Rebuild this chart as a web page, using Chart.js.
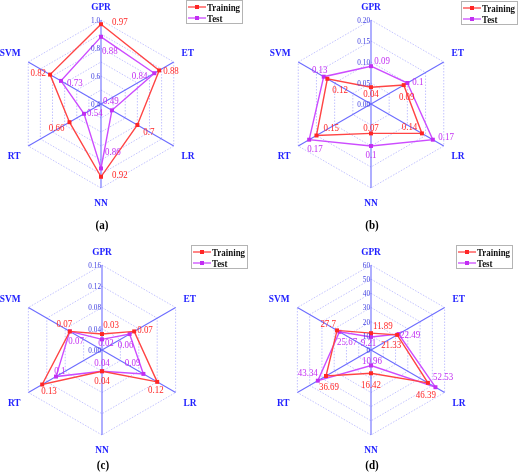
<!DOCTYPE html>
<html><head><meta charset="utf-8">
<script src="https://cdn.jsdelivr.net/npm/chart.js@4.4.0/dist/chart.umd.min.js"></script>
<style>
html,body{margin:0;padding:0;background:#fff;}
#wrap{position:relative;width:520px;height:475px;overflow:hidden;}
#wrap canvas{position:absolute;left:0;top:0;}
</style></head><body>
<div id="wrap">
<canvas id="ca" width="520" height="475"></canvas>
<canvas id="cb" width="520" height="475"></canvas>
<canvas id="cc" width="520" height="475"></canvas>
<canvas id="cd" width="520" height="475"></canvas>
</div>
<script>
// ---- data ----
const categories = ['GPR', 'ET', 'LR', 'NN', 'RT', 'SVM'];
const seriesNames = ['Training', 'Test'];
const trainA = [0.97, 0.88, 0.7, 0.92, 0.66, 0.82];
const testA  = [0.88, 0.84, 0.49, 0.86, 0.54, 0.73];
const trainB = [0.04, 0.09, 0.14, 0.07, 0.15, 0.12];
const testB  = [0.09, 0.1, 0.17, 0.1, 0.17, 0.13];
const trainC = [0.03, 0.07, 0.12, 0.04, 0.13, 0.07];
const testC  = [0.02, 0.06, 0.09, 0.04, 0.1, 0.07];
const trainD = [11.89, 21.33, 46.39, 16.42, 36.69, 27.7];
const testD  = [9.21, 22.49, 52.53, 10.96, 43.34, 25.67];
const ticksA = ['0.4', '', '0.6', '', '0.8', '', '1.0'];
const ticksB = ['0.00', '0.05', '0.10', '0.15', '0.20'];
const ticksC = ['0.00', '0.04', '0.08', '0.12', '0.16'];
const ticksD = ['0', '10', '20', '30', '40', '50', '60'];
const captions = ['(a)', '(b)', '(c)', '(d)'];

// ---- layout / style (not data) ----
const SX = 0.85;
const SERIF = '"Liberation Serif", "Times New Roman", serif';
const COL_TRAIN = '#ff4444', COL_TRAIN_PT = '#ff2626';
const COL_TEST = '#cc4cff', COL_TEST_PT = '#c22ef2';
const COL_AXIS_LABEL = '#2020ff', COL_TICK = '#4040e0';

// data label offsets from each point: [dx, dy, align]
const labelPos = {
  a: { train: [[11,-3,'l'],[4,0,'l'],[6,6,'l'],[11,-2,'l'],[-5,5.5,'r'],[-4,-2,'r']],
       test:  [[1,14,'l'],[-7,2.5,'r'],[-1,-9.5,'c'],[4,-16.7,'l'],[3,-1,'l'],[6,2,'l']] },
  b: { train: [[0,6.5,'c'],[3,11.5,'c'],[-4.6,-6.7,'r'],[0,-5.7,'c'],[7,-7.8,'l'],[5,11,'l']],
       test:  [[3.3,-5.5,'l'],[5,-1.3,'l'],[5.5,-3,'l'],[0,8.7,'c'],[-2,9,'l'],[-4,-7,'c']] },
  c: { train: [[1.3,-10,'l'],[3,-2.4,'l'],[-1.4,8,'c'],[0,9.5,'c'],[-1,5.5,'l'],[-5.5,-8.4,'c']],
       test:  [[4,2.6,'c'],[-4,10,'c'],[-3,-11,'r'],[0,-9,'c'],[-1.7,-6.6,'l'],[-1.5,8.6,'l']] },
  d: { train: [[2,-8,'l'],[-6,10,'c'],[-2,12,'c'],[0,10.7,'c'],[3,10,'c'],[-1,-7.4,'r']],
       test:  [[-2.5,5,'c'],[1.5,0,'l'],[-2.4,-11,'l'],[1,-5,'c'],[0,-8.7,'r'],[-2.5,10,'l']] }
};

const panels = [
  { id: 'ca', key: 'a', train: trainA, test: testA, ticks: ticksA, caption: captions[0], cx: 101, cy: 104, r: 84, legend: [186, 0], capDy: 121 },
  { id: 'cb', key: 'b', train: trainB, test: testB, ticks: ticksB, caption: captions[1], cx: 371, cy: 104, r: 84, legend: [461, 1], capDy: 121 },
  { id: 'cc', key: 'c', train: trainC, test: testC, ticks: ticksC, caption: captions[2], cx: 102, cy: 350, r: 85, legend: [191, 245], capDy: 115 },
  { id: 'cd', key: 'd', train: trainD, test: testD, ticks: ticksD, caption: captions[3], cx: 371, cy: 350, r: 85, legend: [456, 245], capDy: 114.5 }
];

function txt(ctx, s, x, yc, align, size, weight, color) {
  ctx.save();
  ctx.font = weight + ' ' + size + 'px ' + SERIF;
  ctx.fillStyle = color;
  ctx.textAlign = align === 'l' ? 'left' : align === 'r' ? 'right' : align === 'c' ? 'center' : align;
  ctx.textBaseline = 'alphabetic';
  ctx.translate(x, yc + size * 0.34);
  ctx.scale(SX, 1);
  ctx.fillText(s, 0, 0);
  ctx.restore();
}
function textW(ctx, s, size, weight) {
  ctx.save();
  ctx.font = weight + ' ' + size + 'px ' + SERIF;
  const w = ctx.measureText(s).width * SX;
  ctx.restore();
  return w;
}

const overlay = {
  id: 'overlay',
  afterDraw(chart, args, opts) {
    const p = opts.panel;
    const ctx = chart.ctx;
    const sc = chart.scales.r;
    // tick labels
    sc.ticks.forEach(t => {
      if (!t.label) return;
      const d = sc.getDistanceFromCenterForValue(t.value);
      txt(ctx, t.label, sc.xCenter - 1, sc.yCenter - d, 'r', 8.5, 'normal', COL_TICK);
    });
    // axis (point) labels
    chart.data.labels.forEach((lab, i) => {
      const pos = sc.getPointPosition(i, sc.drawingArea + 9);
      const dx = pos.x - sc.xCenter, dy = pos.y - sc.yCenter;
      const w = textW(ctx, lab, 11, 'bold');
      let x = pos.x, y = pos.y;
      if (Math.abs(dx) > 1) x += Math.sign(dx) * w / 2;
      y += Math.sign(dy) * 5;
      txt(ctx, lab, x, y, 'c', 11, 'bold', COL_AXIS_LABEL);
    });
    // data labels
    const lp = labelPos[p.key];
    [['train', COL_TRAIN_PT], ['test', COL_TEST_PT]].forEach(([k, col], di) => {
      const meta = chart.getDatasetMeta(di);
      meta.data.forEach((el, i) => {
        const o = lp[k][i];
        const v = chart.data.datasets[di].data[i];
        txt(ctx, String(v), el.x + o[0], el.y + o[1], o[2], 10.5, 'normal', col);
      });
    });
    // legend
    const [lx, ly] = p.legend;
    ctx.save();
    ctx.fillStyle = '#fff';
    ctx.strokeStyle = '#b4b4b4';
    ctx.lineWidth = 1;
    ctx.fillRect(lx, ly, 56, 23);
    ctx.strokeRect(lx + 0.5, ly + 0.5, 56, 23);
    ctx.restore();
    chart.data.datasets.forEach((ds, di) => {
      const yy = ly + 7 + di * 11;
      ctx.save();
      ctx.strokeStyle = ds.borderColor;
      ctx.lineWidth = 1.3;
      ctx.beginPath();
      ctx.moveTo(lx + 2, yy);
      ctx.lineTo(lx + 20, yy);
      ctx.stroke();
      ctx.fillStyle = ds.pointBackgroundColor;
      ctx.fillRect(lx + 9, yy - 2, 4, 4);
      ctx.restore();
      txt(ctx, ds.label, lx + 21, yy, 'l', 10.5, 'bold', '#111');
    });
    // caption
    txt(ctx, p.caption, sc.xCenter + 1, sc.yCenter + p.capDy, 'c', 13, 'bold', '#000');
  }
};

panels.forEach(p => {
  const tmin = parseFloat(p.ticks[0]);
  const tmax = parseFloat(p.ticks[p.ticks.length - 1]);
  const step = (tmax - tmin) / (p.ticks.length - 1);
  new Chart(document.getElementById(p.id), {
    type: 'radar',
    data: {
      labels: categories,
      datasets: [
        { label: seriesNames[0], data: p.train, borderColor: COL_TRAIN, pointBackgroundColor: COL_TRAIN_PT,
          backgroundColor: 'rgba(0,0,0,0)', fill: false, borderWidth: 1.4, pointStyle: 'rect', pointRadius: 2.8,
          pointBorderWidth: 0, tension: 0 },
        { label: seriesNames[1], data: p.test, borderColor: COL_TEST, pointBackgroundColor: COL_TEST_PT,
          backgroundColor: 'rgba(0,0,0,0)', fill: false, borderWidth: 1.4, pointStyle: 'rect', pointRadius: 2.8,
          pointBorderWidth: 0, tension: 0 }
      ]
    },
    options: {
      responsive: false,
      animation: false,
      events: [],
      layout: { padding: { left: p.cx - p.r, top: p.cy - p.r, right: 520 - p.cx - p.r, bottom: 475 - p.cy - p.r } },
      plugins: { legend: { display: false }, tooltip: { enabled: false }, overlay: { panel: p } },
      scales: {
        r: {
          min: tmin, max: tmax, startAngle: 0,
          ticks: { display: false, stepSize: step, callback: (v, i) => p.ticks[i] },
          pointLabels: { display: false },
          angleLines: { display: true, color: '#6c6cff', lineWidth: 1.1 },
          grid: { color: '#b4b4ff', lineWidth: 0.8 },
          border: { dash: [1.5, 1.5] }
        }
      }
    },
    plugins: [overlay]
  });
});
</script>
</body></html>
